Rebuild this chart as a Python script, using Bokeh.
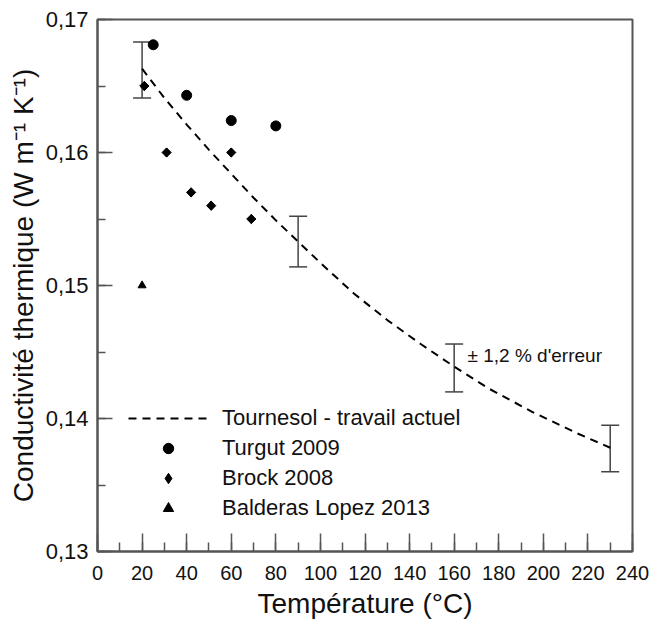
import numpy as np
from bokeh.plotting import figure
from bokeh.models import (ColumnDataSource, Whisker, TeeHead, Legend, LegendItem, Label,
                          FixedTicker, CustomJSTickFormatter, Range1d)
from bokeh.embed import file_html
from bokeh.resources import INLINE

# ---- data ----
fit_t = [20, 30, 40, 50, 60, 70, 80, 90, 100, 115, 130, 145, 160, 175, 195, 215, 230]
fit_k = [0.1663, 0.1641, 0.1621, 0.1602, 0.1584, 0.1566, 0.1549, 0.1533, 0.1517,
         0.1494, 0.1474, 0.1456, 0.1439, 0.1423, 0.1405, 0.1389, 0.1378]
err_t = [20, 90, 160, 230]
err_lo = [0.1641, 0.1514, 0.1420, 0.1360]
err_hi = [0.1683, 0.1552, 0.1456, 0.1395]
turgut_t = [25, 40, 60, 80]
turgut_k = [0.1681, 0.1643, 0.1624, 0.1620]
brock_t = [21, 31, 42, 51, 60, 69]
brock_k = [0.1650, 0.1600, 0.1570, 0.1560, 0.1600, 0.1550]
balderas_t = [20]
balderas_k = [0.1500]
x_ticks = list(range(0, 241, 20))
x_minor = list(range(0, 241, 10))
y_ticks = [0.13, 0.14, 0.15, 0.16, 0.17]
y_minor = [0.13, 0.135, 0.14, 0.145, 0.15, 0.155, 0.16, 0.165, 0.17]
labels = ["Tournesol - travail actuel", "Turgut 2009", "Brock 2008", "Balderas Lopez 2013"]
note_text = "\u00b1 1,2 % d'erreur"
note_t, note_k = 166, 0.1447

FONT = "Liberation Sans"
GRAY = "#555555"

p = figure(width=652, height=621, output_backend="svg", toolbar_location=None,
           x_range=Range1d(0, 240), y_range=Range1d(0.13, 0.17),
           min_border_left=97, min_border_right=20, min_border_top=19, min_border_bottom=68)
p.grid.visible = False
p.outline_line_color = GRAY
p.outline_line_width = 2
p.background_fill_color = "white"
p.border_fill_color = "white"

fit_r = p.line(fit_t, fit_k, line_color="black", line_width=2, line_dash="8 6")
tur_r = p.scatter(turgut_t, turgut_k, marker="circle", size=10, color="black")
# diamond series: the legend uses the (unrotated) diamond marker, the plot shows
# a rotated square drawn over it so the symbol looks as wide as it is tall
bro_r = p.scatter(brock_t, brock_k, marker="diamond", size=9, color="black")
p.scatter(brock_t, brock_k, marker="square", size=6.5, angle=np.pi / 4, color="black")
bal_r = p.scatter(balderas_t, balderas_k, marker="triangle", size=8, color="black")

src = ColumnDataSource(dict(t=err_t, lo=err_lo, hi=err_hi))
w = Whisker(source=src, base="t", lower="lo", upper="hi", line_color="#444444", line_width=1.5,
            upper_head=TeeHead(size=18, line_color="#444444", line_width=1.5),
            lower_head=TeeHead(size=18, line_color="#444444", line_width=1.5))
p.add_layout(w)

p.add_layout(Label(x=note_t, y=note_k, text=note_text, text_baseline="middle",
                   text_font=FONT, text_font_size="19px", text_color="#111111"))

legend = Legend(items=[LegendItem(label=labels[0], renderers=[fit_r]),
                       LegendItem(label=labels[1], renderers=[tur_r]),
                       LegendItem(label=labels[2], renderers=[bro_r]),
                       LegendItem(label=labels[3], renderers=[bal_r])],
                location=(31, 30), padding=0, margin=0, spacing=4,
                glyph_width=80, glyph_height=26, label_height=26, label_standoff=14,
                label_text_font=FONT, label_text_font_size="22px", label_text_color="#111111",
                border_line_color=None, background_fill_alpha=0)
p.add_layout(legend)

for ax in (p.xaxis[0], p.yaxis[0]):
    ax.axis_line_color = GRAY
    ax.axis_line_width = 2
    ax.major_tick_line_color = GRAY
    ax.minor_tick_line_color = GRAY
    ax.major_tick_line_width = 1.5
    ax.minor_tick_line_width = 1.5
    ax.major_tick_out = 0
    ax.minor_tick_out = 0
    ax.major_label_text_font = FONT
    ax.axis_label_text_font = FONT
    ax.axis_label_text_font_style = "normal"
    ax.major_label_text_color = "#111111"
    ax.axis_label_text_color = "#111111"

p.xaxis.ticker = FixedTicker(ticks=x_ticks, minor_ticks=x_minor)
p.xaxis.major_tick_in = 18
p.xaxis.minor_tick_in = 9
p.xaxis.major_label_text_font_size = "20px"
p.xaxis.major_label_standoff = 14
p.xaxis.axis_label = "Température (°C)"
p.xaxis.axis_label_text_font_size = "28px"
p.xaxis.axis_label_standoff = 5

p.yaxis.ticker = FixedTicker(ticks=y_ticks, minor_ticks=y_minor)
p.yaxis.formatter = CustomJSTickFormatter(code="return tick.toFixed(2).replace('.', ',');")
p.yaxis.major_tick_in = 15
p.yaxis.minor_tick_in = 8
p.yaxis.major_label_text_font_size = "22px"
p.yaxis.major_label_standoff = 9
p.yaxis.axis_label = "Conductivité thermique (W m\u207b\u00b9 K\u207b\u00b9)"
p.yaxis.axis_label_text_font_size = "28px"
p.yaxis.axis_label_standoff = 4

open("out.html", "w").write(file_html(p, INLINE))
